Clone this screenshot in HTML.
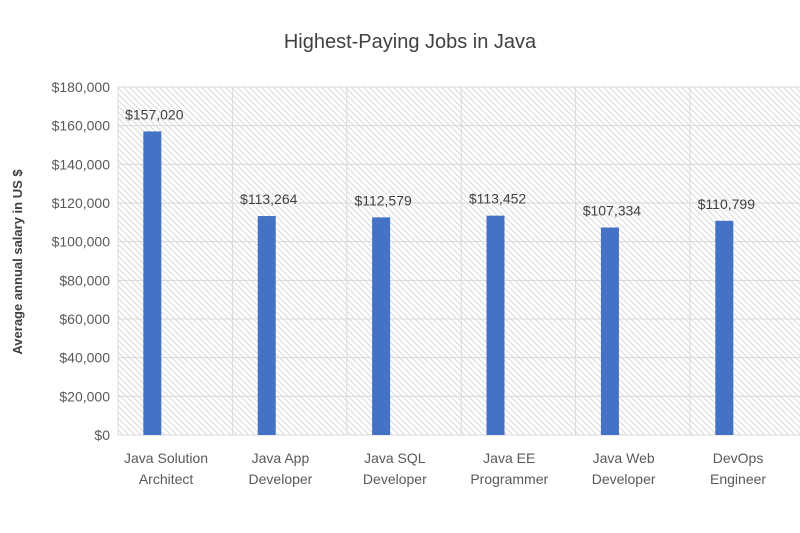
<!DOCTYPE html>
<html><head><meta charset="utf-8"><style>
body{margin:0;background:#fff;}
svg{display:block;font-family:"Liberation Sans",sans-serif;}
</style></head><body>
<svg id="c" width="800" height="533">
<defs>
<pattern id="hatch" width="6" height="6" patternUnits="userSpaceOnUse">
<path d="M-1,-1 L7,7 M-1,5 L1,7 M5,-1 L7,1" stroke="#d9d9d9" stroke-width="1"/>
</pattern>
</defs>
<text x="410" y="48" text-anchor="middle" font-size="20" fill="#404040">Highest-Paying Jobs in Java</text>
<text transform="translate(22,262) rotate(-90)" text-anchor="middle" font-size="13" font-weight="bold" fill="#404040">Average annual salary in US $</text>
<g id="plot"></g>
</svg>
<script>
const categories=[["Java Solution","Architect"],["Java App","Developer"],["Java SQL","Developer"],["Java EE","Programmer"],["Java Web","Developer"],["DevOps","Engineer"]];
const values=[157020,113264,112579,113452,107334,110799];
const valueLabels=["$157,020","$113,264","$112,579","$113,452","$107,334","$110,799"];
const yTicks=[0,20000,40000,60000,80000,100000,120000,140000,160000,180000];
const yTickLabels=["$0","$20,000","$40,000","$60,000","$80,000","$100,000","$120,000","$140,000","$160,000","$180,000"];
const NS="http://www.w3.org/2000/svg";
const L=118,T=87,B=435,band=114.4,R=800,yMax=180000;
const y=v=>B-(v/yMax)*(B-T);
const x=i=>L+band*i;
const g=document.getElementById('plot');
function mk(t,a,p){const e=document.createElementNS(NS,t);for(const k in a)e.setAttribute(k,a[k]);(p||g).appendChild(e);return e;}
const bg=mk('rect',{x:L,y:T,width:R-L,height:B-T,fill:'url(#hatch)'});


yTicks.forEach((v,i)=>{
 const ln=mk('line',{x1:L,x2:R,y1:y(v),y2:y(v),stroke:'#d9d9d9','stroke-width':1});
 
 
 const t=mk('text',{x:L-8,y:y(v)+5,'text-anchor':'end','font-size':14,fill:'#595959'});
 t.textContent=yTickLabels[i];
 
 
});
for(let i=0;i<=categories.length;i++){
 const ln=mk('line',{x1:x(i),x2:x(i),y1:T,y2:B,stroke:'#d9d9d9','stroke-width':1});
 
 
}
values.forEach((v,i)=>{
 const cx=x(i)+band*0.3;
 const r=mk('rect',{x:cx-9,y:y(v),width:18,height:B-y(v),fill:'#4472c4'});
 
 
 const t=mk('text',{x:cx+2,y:y(v)-12,'text-anchor':'middle','font-size':14,fill:'#404040'});
 t.textContent=valueLabels[i];
 
 
 const lx=x(i)+band*0.42;
 categories[i].forEach((s,j)=>{
  const c=mk('text',{x:lx,y:463+j*21,'text-anchor':'middle','font-size':14,fill:'#595959'});
  c.textContent=s;
  
  
 });
});
</script>
</body></html>
